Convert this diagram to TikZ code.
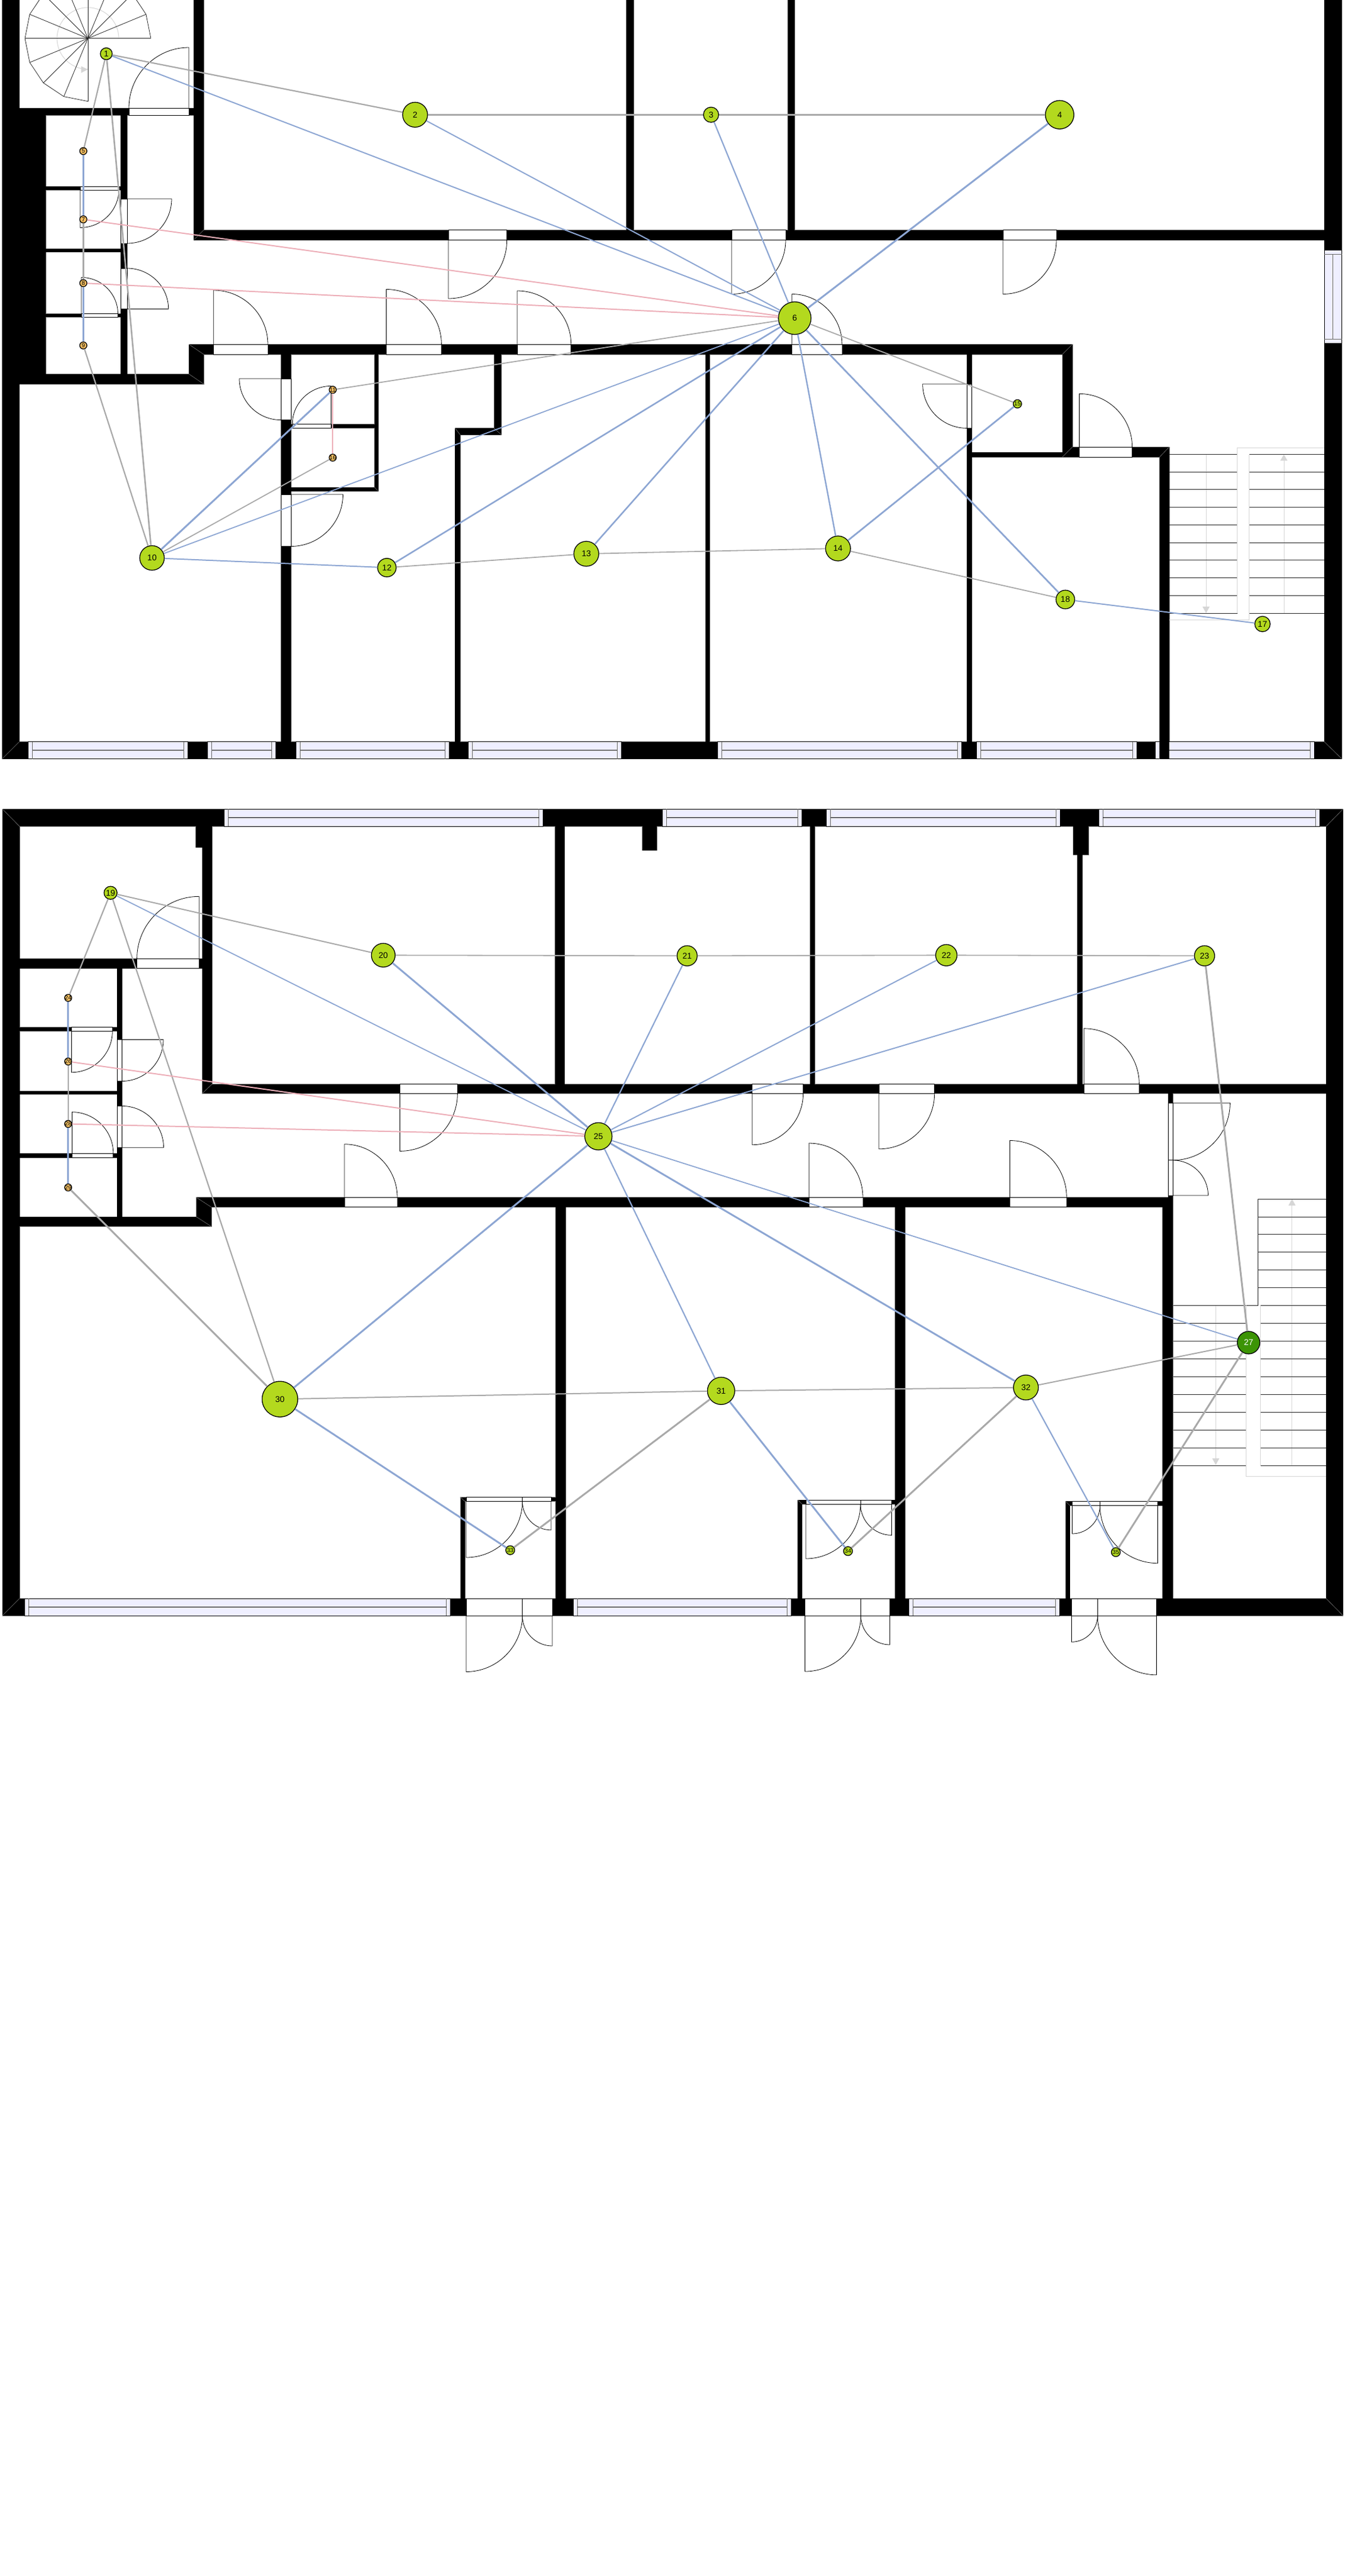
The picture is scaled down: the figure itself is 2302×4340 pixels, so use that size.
\documentclass[tikz,border=0pt]{standalone}
\usepackage{fontspec}
\setmainfont{Liberation Sans}
\definecolor{nlime}{HTML}{B3D91E}
\definecolor{norange}{HTML}{F8BF61}
\definecolor{ndark}{HTML}{3C9405}
\definecolor{egray}{HTML}{A9A9A9}
\definecolor{eblue}{HTML}{8DA6D3}
\definecolor{epink}{HTML}{EDAEB8}
\definecolor{glass}{HTML}{EFEFFF}
\definecolor{stairgray}{HTML}{D6D6D6}
\newcommand{\doorswing}[6]{%
  \pgfmathsetmacro\cax{#3+.55*(#5-#1)}\pgfmathsetmacro\cay{#4+.55*(#6-#2)}%
  \pgfmathsetmacro\cbx{#5+.55*(#3-#1)}\pgfmathsetmacro\cby{#6+.55*(#4-#2)}%
  \draw[swing] (#1,#2) -- (#3,#4) .. controls (\cax,\cay) and (\cbx,\cby) .. (#5,#6);}
\newcommand{\winh}[5]{%
  \filldraw[pane] (#1,#3) rectangle (#2,#4);
  \draw[stile] (#1+7,#3) -- (#1+7,#4) (#2-7,#3) -- (#2-7,#4);
  \draw[#5] (#1+7,{(#3+#4)/2}) -- (#2-7,{(#3+#4)/2});}
\newcommand{\nb}[1]{\makebox[0pt]{#1}}
\def\wallsA{3.6/0/32.6/1278.6, 3.6/1249.6/2259.6/1278.6, 2230/0/2259.6/1278.6, 326/0/343/404.5,
3.6/182/343/194, 3.6/182/77/647, 3.6/630/343/647, 318/580/343/647, 318/580/1806/597,
326/387.5/2259.6/404.5, 1054.6/0/1067/404, 1326.5/0/1338/404, 203/182/214/647, 77/314/203/320,
77/419/214/424.6, 77/528.6/214/534.4, 473/580/490/1278.6, 630.6/580/637.2/827.7, 473/714.7/637.2/721.4,
473/821/637.2/827.7, 832/580/844.4/732.6, 766.3/721.4/844.4/732.6, 766.3/721.4/775/1278.6,
1188/580/1195/1278.6, 1628/580/1636.6/1278.6, 1628/762/1806/770, 1789/580/1806/770, 1789/753/1969/770,
1952.7/753/1969/1278.6,
4/1363/2261.6/1392.4, 4/1363/33/2722, 2233/1363/2261.6/2722, 4/2693/2261.6/2722, 329.6/1392/357/1427.7,
340.8/1392/357/1842, 340.8/1826.6/2261/1842, 4/1615/357/1631.7, 197.4/1615/205.6/2066, 33/1730.7/205.6/1737.3,
33/1838.4/205.6/1843.5, 33/1943/205.6/1950.6, 4/2050/356/2066.4, 330.6/2017.4/356/2066.4, 330.6/2017.4/1975/2033.8,
934.7/1392/950.5/1842, 1081.6/1392/1106/1432.8, 1364.3/1392/1372.4/1842, 1807.4/1392/1833/1440, 1814/1440/1822.8/1842,
1967/1826.6/1975/2033.8, 935.7/2017.4/952.6/2722, 1507/2017.4/1524/2722, 1957.8/2017.4/1975/2722,
775.5/2522.7/783/2722, 775.5/2522.7/952/2529.4, 1343.4/2527/1350.5/2722, 1343.4/2527/1524/2534,
1794.6/2529.4/1801.8/2722, 1794.6/2529.4/1975/2536.6}
\def\mitres{3.6/1278.6/32.6/1249.6, 2259.6/1278.6/2230/1249.6, 326/404.5/343/387.5, 318/580/343/597,
318/630/343/647, 1806/580/1789/597, 1969/753/1952.7/770, 1789/770/1806/753, 766.3/721.4/775/732.6,
844.4/732.6/832/721.4, 637.2/827.7/630.6/821,
4/1363/33/1392.4, 2261.6/1363/2233/1392.4, 340.8/1842/357/1826.6, 330.6/2017.4/356/2033.8,
330.6/2050/356/2066.4, 4/2722/33/2693, 2261.6/2722/2233/2693, 775.5/2522.7/783/2529.4,
1343.4/2527/1350.5/2534, 1794.6/2529.4/1801.8/2536.6}
\def\jambs{217/182/318/194, 203/335/214/410, 203/452/214/520.5, 135/314/200/320, 137/528.6/198.5/534.4,
359.7/580/451/597, 650.5/580/743.4/597, 871/580/961.7/597, 1333.7/580/1417.9/597,
755/387.5/853.6/404.5, 1232/387.5/1323/404.5, 1689/387.5/1779/404.5, 473/638/490/707.6, 473/833/490/920.5,
492.3/714.7/557.6/721.4, 1628/647/1636.6/721.4, 1817.6/753/1906.6/770,
230.6/1615/335.2/1631.7, 197.4/1751.6/205.6/1821.5, 197.4/1863.4/205.6/1933.3, 120.4/1730.7/189.3/1737.3,
121.4/1943/190.8/1950.6, 580/2017.4/669/2033.8, 673.5/1826.6/770.4/1842, 1266.8/1826.6/1352.6/1842,
1480/1826.6/1573.7/1842, 1825.3/1826.6/1918.4/1842, 1362.2/2017.4/1453/2033.8, 1700.5/2017.4/1796.2/2033.8,
1967/1858.3/1975/1954.7, 1967/1954.7/1975/2013.9,
785/2693/930/2722, 785/2522.7/928/2529.4, 1355.6/2693/1498.5/2722, 1357/2527/1501.5/2534,
1804.4/2693/1947.6/2722, 1805.4/2529.4/1949.6/2536.6}
\begin{document}
\begin{tikzpicture}[x=1pt,y=-1pt,
  wallline/.style={draw=black!55,line width=1pt},
  mitre/.style={draw=black!55,line width=.6pt},
  jamb/.style={fill=white,draw=black,line width=.8pt},
  swing/.style={draw=black,line width=.8pt,fill=none},
  pane/.style={fill=glass,draw=black,line width=.8pt},
  stile/.style={draw=black!60,line width=.8pt},
  midA/.style={draw=black!55,line width=1.8pt},
  midB/.style={draw=black,line width=.8pt},
  tread/.style={draw=black!85,line width=.8pt},
  ghost/.style={draw=stairgray,line width=1pt},
  ghosttip/.style={fill=stairgray,draw=none},
  nd/.style={circle,draw=black,line width=1.3pt,fill=nlime,inner sep=0pt,minimum size=#1 pt,text=black,
    font=\fontsize{14}{14}\selectfont},
  nds/.style={nd=#1,font=\fontsize{10}{10}\selectfont},
  ndo/.style={nds=#1,fill=norange},
  gr/.style={draw=egray,line width=#1pt},
  bl/.style={draw=eblue,line width=#1pt},
  pk/.style={draw=epink,line width=#1pt}]
\useasboundingbox (0,0) rectangle (2302,4340);
\fill[white] (0,0) rectangle (2302,4340);
% walls
\foreach \a/\b/\c/\d in \wallsA {\draw[wallline] (\a,\b) rectangle (\c,\d);}
\foreach \a/\b/\c/\d in \wallsA {\fill[black] (\a,\b) rectangle (\c,\d);}
\foreach \a/\b/\c/\d in \mitres {\draw[mitre] (\a,\b) -- (\c,\d);}
% door openings
\foreach \a/\b/\c/\d in \jambs {\filldraw[jamb] (\a,\b) rectangle (\c,\d);}
\draw[swing] (879.6,2693) -- (879.6,2722) (879.6,2522.7) -- (879.6,2529.4)
  (1449.5,2693) -- (1449.5,2722) (1449,2527) -- (1449,2534)
  (1848.3,2693) -- (1848.3,2722) (1852.4,2529.4) -- (1852.4,2536.6);
% windows, first plan
\winh{47}{316.8}{1249.6}{1278.6}{midA}
\winh{349}{464.3}{1249.6}{1278.6}{midA}
\winh{498.5}{756}{1249.6}{1278.6}{midA}
\winh{788}{1046.4}{1249.6}{1278.6}{midA}
\winh{1208}{1619}{1249.6}{1278.6}{midA}
\winh{1644.8}{1914.3}{1249.6}{1278.6}{midA}
\winh{1945}{2213}{1249.6}{1278.6}{midA}
\fill[black] (1952.7,1249) rectangle (1969,1279);
\filldraw[pane] (2230,421) rectangle (2259.6,578);
\draw[stile] (2230,428.6) -- (2259.6,428.6) (2230,571) -- (2259.6,571) (2244.8,428.6) -- (2244.8,571);
% windows, second plan
\winh{377.5}{914.8}{1363}{1392.4}{midB}
\winh{1115.8}{1350}{1363}{1392.4}{midB}
\winh{1391.8}{1785}{1363}{1392.4}{midB}
\winh{1850.4}{2222.3}{1363}{1392.4}{midB}
\winh{41.3}{758.7}{2693}{2722}{midB}
\winh{965.3}{1332}{2693}{2722}{midB}
\winh{1530.7}{1783.9}{2693}{2722}{midB}
% door leaves, first plan
\doorswing{318}{182}{318}{80}{217}{182}
\doorswing{214}{335}{289}{335}{214}{410}
\doorswing{214}{520.5}{283.7}{520.5}{214}{452}
\doorswing{135}{320}{135}{383.5}{200}{320}
\doorswing{137}{528.6}{137}{467.4}{198.5}{528.6}
\doorswing{359.7}{580}{359.7}{489}{451}{580}
\doorswing{650.5}{580}{650.5}{487.5}{743.4}{580}
\doorswing{871}{580}{871}{490}{961.7}{580}
\doorswing{1333.7}{580}{1333.7}{495.5}{1417.9}{580}
\doorswing{755}{404.5}{755}{503}{853.6}{404.5}
\doorswing{1232}{404.5}{1232}{495.5}{1323}{404.5}
\doorswing{1689}{404.5}{1689}{495.5}{1779}{404.5}
\doorswing{473}{638}{403}{638}{473}{707.6}
\doorswing{490}{833}{577.5}{833}{490}{920.5}
\doorswing{557.6}{714.7}{557.6}{650.4}{492.3}{714.7}
\doorswing{1628}{647}{1553.7}{647}{1628}{721.4}
\doorswing{1817.6}{753}{1817.6}{663.4}{1906.6}{753}
% door leaves, second plan
\doorswing{335.2}{1615}{335.2}{1510.3}{230.6}{1615}
\doorswing{205.6}{1751.6}{275}{1751.6}{205.6}{1821.5}
\doorswing{205.6}{1933.3}{275.5}{1933.3}{205.6}{1863.4}
\doorswing{120.4}{1737.3}{120.4}{1806.7}{189.3}{1737.3}
\doorswing{121.4}{1943}{121.4}{1873.6}{190.8}{1943}
\doorswing{580}{2017.4}{580}{1927.7}{669}{2017.4}
\doorswing{673.5}{1842}{673.5}{1939.4}{770.4}{1842}
\doorswing{1266.8}{1842}{1266.8}{1928.7}{1352.6}{1842}
\doorswing{1480}{1842}{1480}{1935.8}{1573.7}{1842}
\doorswing{1825.3}{1826.6}{1825.3}{1732.8}{1918.4}{1826.6}
\doorswing{1362.2}{2017.4}{1362.2}{1926}{1453}{2017.4}
\doorswing{1700.5}{2017.4}{1700.5}{1921.5}{1796.2}{2017.4}
\doorswing{1975}{1858.3}{2071.4}{1858.3}{1975}{1954.7}
\doorswing{1975}{2013.9}{2034.5}{2013.9}{1975}{1954.7}
\doorswing{785}{2529.4}{785}{2624}{879.6}{2529.4}
\doorswing{928}{2529.4}{928}{2577.8}{879.6}{2529.4}
\doorswing{785}{2722}{785}{2816.5}{879.6}{2722}
\doorswing{930}{2722}{930}{2773}{879.6}{2722}
\doorswing{1355.6}{2722}{1355.6}{2816}{1449.5}{2722}
\doorswing{1498.5}{2722}{1498.5}{2771}{1449.5}{2722}
\doorswing{1357}{2534}{1357}{2626}{1449}{2534}
\doorswing{1501.5}{2534}{1501.5}{2586.4}{1449}{2534}
\doorswing{1805.4}{2536.6}{1805.4}{2584}{1852.4}{2536.6}
\doorswing{1949.6}{2536.6}{1949.6}{2633.7}{1852.4}{2536.6}
\doorswing{1804.4}{2722}{1804.4}{2766.3}{1848.3}{2722}
\doorswing{1947.6}{2722}{1947.6}{2821.8}{1848.3}{2722}
% spiral stair
\draw[ghost] plot[domain=0:270,samples=46] ({148+52*cos(\x)},{64.7-52*sin(\x)});
\fill[ghosttip] (148,117) -- (136.7,111.6) -- (136.7,122.8) -- cycle;
\foreach \t in {0,22.5,...,270} {
  \pgfmathsetmacro\px{148+106*cos(\t)}\pgfmathsetmacro\py{64.7-106*sin(\t)}
  \draw[tread] (148,64.7) -- (\px,\py);
}
\foreach \t in {0,22.5,...,247.5} {
  \pgfmathsetmacro\px{148+106*cos(\t)}\pgfmathsetmacro\py{64.7-106*sin(\t)}
  \pgfmathsetmacro\qx{148+106*cos(\t+22.5)}\pgfmathsetmacro\qy{64.7-106*sin(\t+22.5)}
  \draw[tread] (\px,\py) -- (\qx,\qy);
}
% straight stair, first plan
\draw[ghost] (2031,765.6) -- (2031,1030) (2162,1033) -- (2162,768);
\fill[ghosttip] (2031,1033) -- (2025,1022) -- (2037,1022) -- cycle;
\fill[ghosttip] (2162,765.6) -- (2156,776) -- (2168,776) -- cycle;
\foreach \y in {765.6,795,824.6,854.5,884.4,914.3,943.8,973.7,1003.6,1033} {
  \draw[tread] (1969,\y) -- (2083.6,\y) (2103.6,\y) -- (2230,\y);
}
\draw[ghost] (2083.6,1033) -- (2083.6,754.5) -- (2230,754.5) (1969,1044.6) -- (2103.6,1044.6) -- (2103.6,765.6);
% straight stair, second plan
\draw[ghost] (2047.3,2199.3) -- (2047.3,2466) (2175.7,2469) -- (2175.7,2022);
\fill[ghosttip] (2047.3,2468) -- (2041.3,2457) -- (2053.3,2457) -- cycle;
\fill[ghosttip] (2175.7,2020) -- (2169.7,2031) -- (2181.7,2031) -- cycle;
\foreach \y in {2020,2050,2079.7,2109.8,2139.4,2169.6} {\draw[tread] (2118.4,\y) -- (2233,\y);}
\draw[tread] (2118.4,2020) -- (2118.4,2199.3) -- (1975.7,2199.3);
\draw[tread] (2122.5,2199.3) -- (2233,2199.3);
\foreach \y in {2229.4,2259.6,2289.7,2319.4,2349.5,2379.7,2409.3,2439.5,2469.1} {
  \draw[tread] (1975.7,\y) -- (2098.5,\y) (2122.5,\y) -- (2233,\y);
}
\draw[ghost] (2098.5,2199.3) -- (2098.5,2487.3) -- (2233,2487.3) (2122.5,2199.3) -- (2122.5,2469.1);
% nodes, first plan
\node[nd=20] (n1) at (179,90.6) {\nb{1}};
\node[nd=42] (n2) at (699,193.3) {\nb{2}};
\node[nd=25.6] (n3) at (1197.4,193.3) {\nb{3}};
\node[nd=48] (n4) at (1784.4,193.3) {\nb{4}};
\node[ndo=12] (n5) at (140.3,254.5) {\nb{5}};
\node[nd=55] (n6) at (1338.3,536) {\nb{6}};
\node[ndo=12] (n7) at (140.3,369.6) {\nb{7}};
\node[ndo=12] (n8) at (140.3,477) {\nb{8}};
\node[ndo=12] (n9) at (140.3,582) {\nb{9}};
\node[nd=41.4] (n10) at (256,940) {\nb{10}};
\node[ndo=12] (n11) at (560.3,656.7) {\nb{11}};
\node[nd=31.2] (n12) at (651.5,956.3) {\nb{12}};
\node[nd=42] (n13) at (987.3,933) {\nb{13}};
\node[nd=42] (n14) at (1411.2,924) {\nb{14}};
\node[nds=14] (n15) at (1713.3,680.4) {\nb{15}};
\node[ndo=12] (n16) at (560.3,771) {\nb{16}};
\node[nd=26] (n17) at (2126,1051.3) {\nb{17}};
\node[nd=31.4] (n18) at (1794,1010) {\nb{18}};
% nodes, second plan
\node[nd=22] (n19) at (186.2,1504.2) {\nb{19}};
\node[nd=40] (n20) at (645.4,1609.3) {\nb{20}};
\node[nd=34] (n21) at (1157.1,1610.3) {\nb{21}};
\node[nd=36] (n22) at (1593.6,1609.3) {\nb{22}};
\node[nd=34] (n23) at (2028.4,1610.3) {\nb{23}};
\node[ndo=12] (n24) at (114.8,1681.2) {\nb{24}};
\node[nd=46] (n25) at (1007.7,1914.4) {\nb{25}};
\node[ndo=12] (n26) at (114.8,1788.4) {\nb{26}};
\node[nd=38,fill=ndark,text=white] (n27) at (2102.6,2262) {\nb{27}};
\node[ndo=12] (n28) at (114.8,1893.5) {\nb{28}};
\node[ndo=12] (n29) at (114.8,2000.6) {\nb{29}};
\node[nd=60] (n30) at (471.4,2357.2) {\nb{30}};
\node[nd=46] (n31) at (1214.3,2343.3) {\nb{31}};
\node[nd=42] (n32) at (1727.6,2337.6) {\nb{32}};
\node[nds=15] (n33) at (859.2,2611.7) {\nb{33}};
\node[nds=15] (n34) at (1428,2613.2) {\nb{34}};
\node[nds=15] (n35) at (1879,2615) {\nb{35}};
% connectors, first plan
\draw[gr=2.2] (n1) -- (n2);
\draw[gr=3] (n2) -- (n3);
\draw[gr=3] (n3) -- (n4);
\draw[gr=2.2] (n1) -- (n5);
\draw[gr=2.6] (n1) -- (n10);
\draw[bl=3] (n5) -- (n7);
\draw[gr=2.6] (n7) -- (n8);
\draw[bl=3] (n8) -- (n9);
\draw[gr=2.2] (n9) -- (n10);
\draw[bl=2] (n1) -- (n6);
\draw[bl=2] (n2) -- (n6);
\draw[bl=2.2] (n3) -- (n6);
\draw[bl=3] (n4) -- (n6);
\draw[pk=2] (n7) -- (n6);
\draw[pk=2] (n8) -- (n6);
\draw[gr=1.8] (n11) -- (n6);
\draw[bl=3] (n11) -- (n10);
\draw[pk=2.2] (n11) -- (n16);
\draw[gr=1.8] (n16) -- (n10);
\draw[bl=1.8] (n10) -- (n6);
\draw[bl=2] (n10) -- (n12);
\draw[bl=2.6] (n12) -- (n6);
\draw[gr=1.8] (n12) -- (n13);
\draw[bl=2.6] (n13) -- (n6);
\draw[gr=1.8] (n13) -- (n14);
\draw[bl=2.4] (n14) -- (n6);
\draw[bl=2.8] (n14) -- (n15);
\draw[gr=1.8] (n14) -- (n18);
\draw[bl=2.8] (n6) -- (n18);
\draw[gr=1.8] (n6) -- (n15);
\draw[bl=2] (n18) -- (n17);
% connectors, second plan
\draw[gr=2] (n19) -- (n20);
\draw[gr=1.8] (n20) -- (n21);
\draw[gr=1.8] (n21) -- (n22);
\draw[gr=1.8] (n22) -- (n23);
\draw[gr=2.2] (n19) -- (n24);
\draw[gr=2.2] (n19) -- (n30);
\draw[bl=3] (n24) -- (n26);
\draw[gr=2.6] (n26) -- (n28);
\draw[bl=3] (n28) -- (n29);
\draw[gr=3] (n29) -- (n30);
\draw[bl=1.8] (n19) -- (n25);
\draw[bl=3] (n20) -- (n25);
\draw[bl=2.2] (n21) -- (n25);
\draw[bl=2] (n22) -- (n25);
\draw[bl=2] (n23) -- (n25);
\draw[pk=2] (n26) -- (n25);
\draw[pk=2] (n28) -- (n25);
\draw[bl=3] (n30) -- (n25);
\draw[bl=2.2] (n25) -- (n31);
\draw[bl=3] (n25) -- (n32);
\draw[bl=1.8] (n25) -- (n27);
\draw[gr=3] (n23) -- (n27);
\draw[gr=2] (n30) -- (n31);
\draw[gr=2] (n31) -- (n32);
\draw[gr=2] (n32) -- (n27);
\draw[bl=3] (n30) -- (n33);
\draw[gr=3] (n33) -- (n31);
\draw[bl=3] (n31) -- (n34);
\draw[gr=3] (n34) -- (n32);
\draw[bl=2.2] (n32) -- (n35);
\draw[gr=3] (n35) -- (n27);
\end{tikzpicture}
\end{document}
